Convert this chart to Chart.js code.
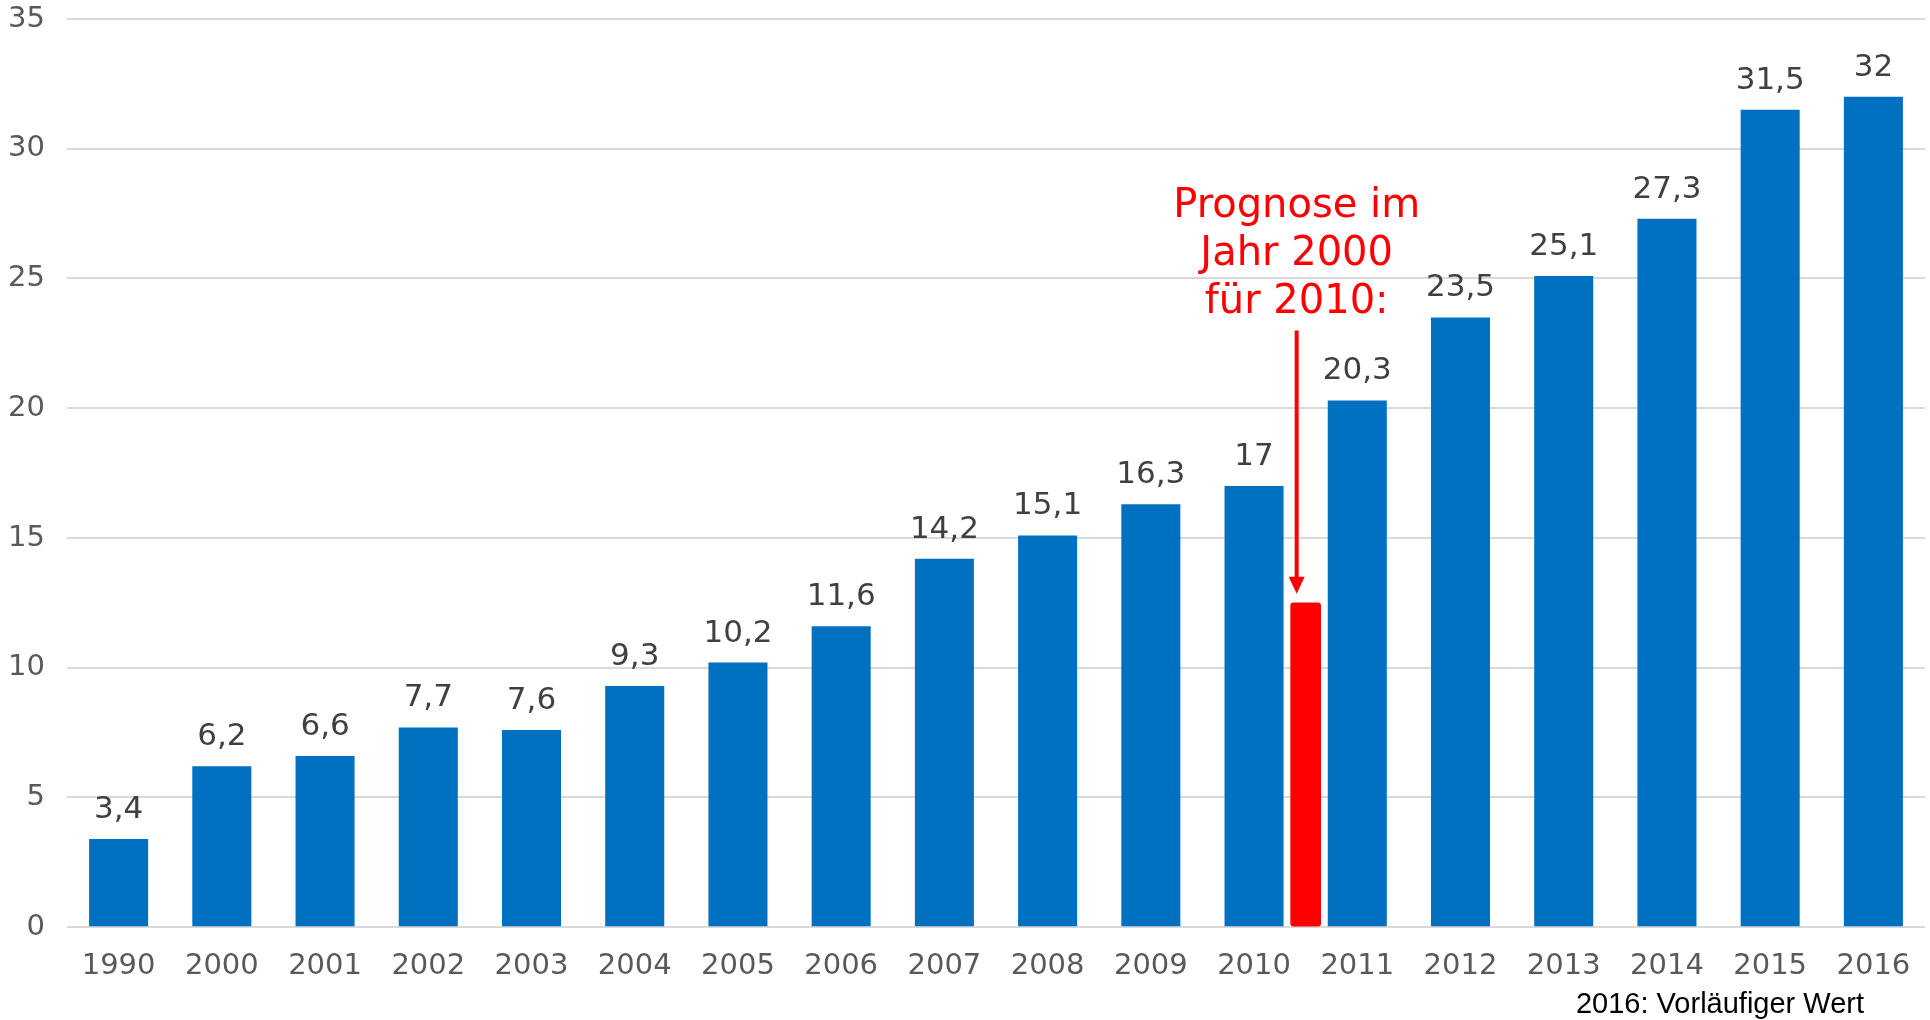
<!DOCTYPE html>
<html>
<head>
<meta charset="utf-8">
<script src="https://cdn.jsdelivr.net/npm/chart.js@4/dist/chart.umd.min.js"></script>
<style>
    html, body { margin: 0; padding: 0; background: #fff; }
</style>
</head>
<body>
<canvas id="chart" width="1930" height="1020"></canvas>
<script>
// values
const years = ['1990', '2000', '2001', '2002', '2003', '2004', '2005', '2006', '2007',
               '2008', '2009', '2010', '2011', '2012', '2013', '2014', '2015', '2016'];
const values = [3.4, 6.2, 6.6, 7.7, 7.6, 9.3, 10.2, 11.6, 14.2, 15.1, 16.3, 17, 20.3, 23.5, 25.1, 27.3, 31.5, 32];

const forecastAfter = '2010';      // red bar sits right after this year
const forecastValue = 12.5;
const forecastLines = ['Prognose im', 'Jahr 2000', 'für 2010:'];
const arrowFrom = 23;              // y value where the arrow starts
const footnote = '2016: Vorläufiger Wert';

// boundary slots: slot i is the left edge of years[i], plus one at the far right
const slots = years.concat(['end']);
const forecastIdx = years.indexOf(forecastAfter) + 1;
const forecastData = slots.map((s, i) => i === forecastIdx ? forecastValue : null);

const labelFont = '"DejaVu Sans", Verdana, sans-serif';

const fmt = v => String(v).replace('.', ',');

const valueLabels = {
    id: 'valueLabels',
    afterDatasetsDraw(chart) {
        const ctx = chart.ctx;
        const meta = chart.getDatasetMeta(0);
        ctx.save();
        ctx.font = '31px ' + labelFont;
        ctx.fillStyle = '#404040';
        ctx.textAlign = 'center';
        ctx.textBaseline = 'alphabetic';
        meta.data.forEach((bar, i) => {
            ctx.fillText(fmt(values[i]), bar.x, bar.y - 21);
        });
        ctx.restore();
    }
};

const forecastNote = {
    id: 'forecastNote',
    afterDatasetsDraw(chart) {
        const ctx = chart.ctx;
        const bar = chart.getDatasetMeta(1).data[forecastIdx];
        const x = bar.x - 9;
        const top = chart.scales.y.getPixelForValue(arrowFrom);
        const tip = bar.y - 9;
        ctx.save();
        ctx.strokeStyle = '#ff0000';
        ctx.fillStyle = '#ff0000';
        ctx.lineWidth = 4;
        ctx.beginPath();
        ctx.moveTo(x, top);
        ctx.lineTo(x, tip - 14);
        ctx.stroke();
        ctx.beginPath();
        ctx.moveTo(x - 8, tip - 17);
        ctx.lineTo(x + 8, tip - 17);
        ctx.lineTo(x, tip);
        ctx.closePath();
        ctx.fill();

        ctx.font = '40px ' + labelFont;
        ctx.textAlign = 'center';
        ctx.textBaseline = 'alphabetic';
        const n = forecastLines.length;
        forecastLines.forEach((line, i) => {
            ctx.fillText(line, x, top - 17 - (n - 1 - i) * 48);
        });
        ctx.restore();
    }
};

const footNote = {
    id: 'footNote',
    afterDraw(chart) {
        const ctx = chart.ctx;
        ctx.save();
        ctx.font = '29px "Liberation Sans", Arial, sans-serif';
        ctx.fillStyle = '#000';
        ctx.textAlign = 'right';
        ctx.textBaseline = 'alphabetic';
        ctx.fillText(footnote, 1864, 1013);
        ctx.restore();
    }
};

new Chart(document.getElementById('chart'), {
    type: 'bar',
    data: {
        labels: years,
        datasets: [{
            data: values,
            backgroundColor: '#0070c0',
            categoryPercentage: 1,
            barPercentage: 0.572,
            grouped: false
        }, {
            data: forecastData,
            xAxisID: 'xf',
            backgroundColor: '#ff0000',
            barThickness: 30,
            borderRadius: 3,
            borderSkipped: false,
            grouped: false
        }]
    },
    options: {
        responsive: false,
        devicePixelRatio: 1,
        animation: false,
        layout: {padding: {top: 19, right: 5, bottom: 22, left: 0}},
        plugins: {
            legend: {display: false},
            tooltip: {enabled: false}
        },
        scales: {
            x: {
                grid: {display: false},
                border: {display: false},
                ticks: {
                    color: '#595959',
                    font: {family: labelFont, size: 29},
                    padding: 14,
                    maxRotation: 0,
                    autoSkip: false
                }
            },
            xf: {
                type: 'category',
                labels: slots,
                offset: false,
                display: false
            },
            y: {
                min: 0,
                max: 35,
                afterFit(scale) {
                    scale.width = 67;
                    scale.paddingTop = 0;
                    scale.paddingBottom = 0;
                },
                grid: {color: '#d9d9d9', lineWidth: 2, drawTicks: false},
                border: {display: false},
                ticks: {
                    stepSize: 5,
                    color: '#595959',
                    font: {family: labelFont, size: 29},
                    padding: 22
                }
            }
        }
    },
    plugins: [valueLabels, forecastNote, footNote]
});
</script>
</body>
</html>
